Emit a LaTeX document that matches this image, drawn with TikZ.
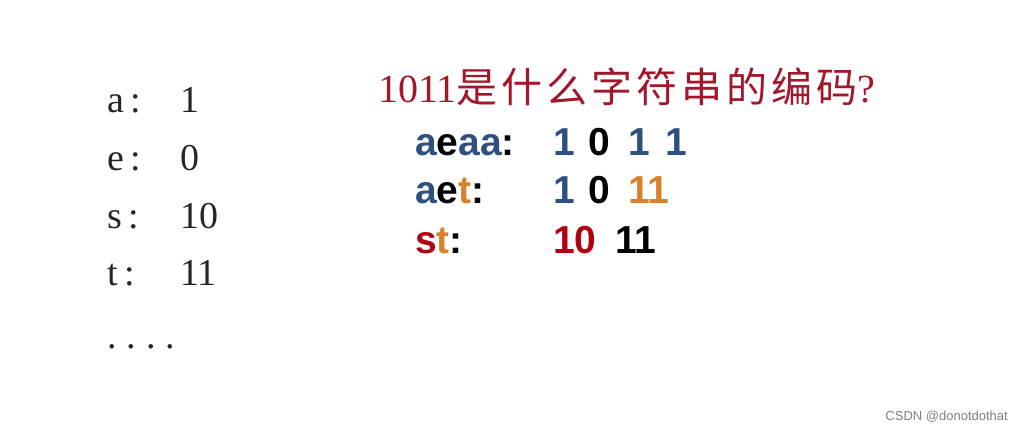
\documentclass[tikz,border=0pt]{standalone}
\usepackage{fontspec}
\setmainfont{Liberation Serif}
\newfontfamily\cjk{Noto Sans CJK SC}
\newfontfamily\arial{Liberation Sans}
\definecolor{tred}{HTML}{A3172B}
\definecolor{tblue}{HTML}{2F4F80}
\definecolor{torange}{HTML}{D9822B}
\definecolor{sred}{HTML}{B00012}
\begin{document}
\begin{tikzpicture}[x=1pt,y=-1pt,
  lst/.style={anchor=base west,inner sep=0,text=black!85,font=\fontsize{38}{42}\selectfont},
  row/.style={anchor=base west,inner sep=0,font=\arial\bfseries\fontsize{39}{43}\selectfont}]
\useasboundingbox (0,0) rectangle (1022,433);
\fill[white] (0,0) rectangle (1022,433);
\node[lst] (la) at (107,113) {a\,:};
\node[lst] (va) at (180,113) {1};
\node[lst] (le) at (107,170) {e\,:};
\node[lst] (ve) at (180,170) {0};
\node[lst] (ls) at (107,228) {s\,:};
\node[lst] (vs) at (180,228) {10};
\node[lst] (lt) at (107,285) {t\,:};
\node[lst] (vt) at (180,285) {11};
\node[lst] (dots) at (107,348) {.\hspace{10pt}.\hspace{10pt}.\hspace{10pt}.};
\node[anchor=base west,inner sep=0,text=tred,font=\fontsize{40}{44}\selectfont] (title) at (378,103) {1011{\cjk\fontsize{41}{44}\selectfont 是\hspace{4pt}什\hspace{4pt}么\hspace{4pt}字\hspace{4pt}符\hspace{4pt}串\hspace{4pt}的\hspace{4pt}编\hspace{4pt}码}?};
\node[row] (r1) at (415,155) {\textcolor{tblue}{a}e\textcolor{tblue}{aa}:};
\node[row] (r1a) at (553,155) {\textcolor{tblue}{1}};
\node[row] (r1b) at (588,155) {0};
\node[row] (r1c) at (628,155) {\textcolor{tblue}{1}};
\node[row] (r1d) at (665,155) {\textcolor{tblue}{1}};
\node[row] (r2) at (415,203) {\textcolor{tblue}{a}e\textcolor{torange}{t}:};
\node[row] (r2a) at (553,203) {\textcolor{tblue}{1}};
\node[row] (r2b) at (588,203) {0};
\node[row] (r2c) at (628,203) {\textcolor{torange}{11}};
\node[row] (r3) at (415,253) {\textcolor{sred}{s}\textcolor{torange}{t}:};
\node[row] (r3a) at (553,253) {\textcolor{sred}{10}};
\node[row] (r3b) at (615,253) {11};
\node[anchor=base east,inner sep=0,text=gray,font=\arial\fontsize{13}{15}\selectfont] (wm) at (1008,420) {CSDN @donotdothat};
\end{tikzpicture}
\end{document}
